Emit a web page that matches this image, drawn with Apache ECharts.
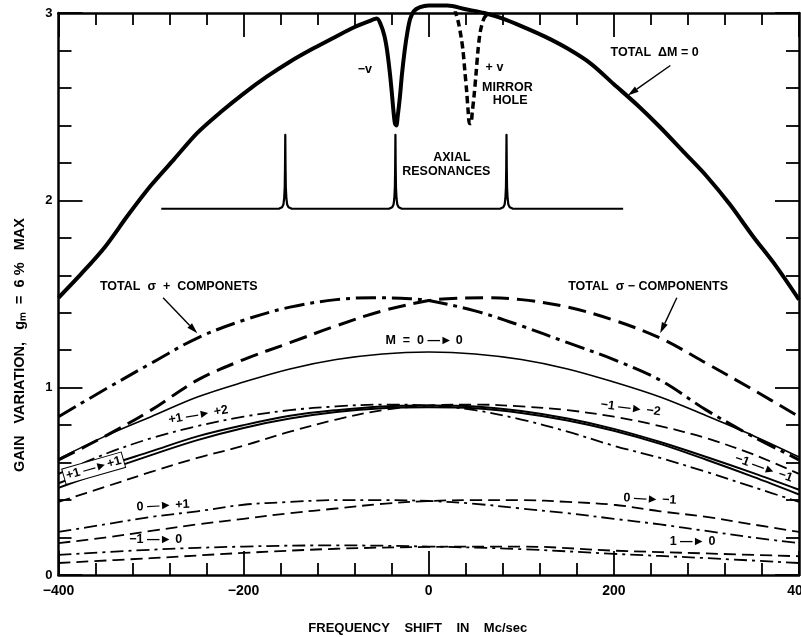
<!DOCTYPE html>
<html><head><meta charset="utf-8">
<script src="https://cdn.jsdelivr.net/npm/echarts@6/dist/echarts.min.js"></script>
<style>html,body{margin:0;padding:0;background:#fff}#c{width:801px;height:637px}</style>
</head><body><div id="c"></div>
<script>
// ---------- tick labels ----------
const xTickValues = [-400, -200, 0, 200, 400];
const xTickLabels = ['−400', '−200', '0', '200', '400'];
const yTickValues = [0, 1, 2, 3];
const yTickLabels = ['0', '1', '2', '3'];

// ---------- series values [frequency shift, gain] ----------
const totalDM0 = [[-400,1.48],[-375,1.61],[-350,1.75],[-325,1.92],[-300,2.08],[-275,2.22],[-250,2.36],[-225,2.47],[-200,2.57],[-175,2.66],[-150,2.74],[-125,2.81],[-100,2.875],[-80,2.925],[-65,2.955],[-56,2.97],[-52,2.94],[-48,2.88],[-45,2.80],[-42,2.68],[-40,2.58],[-38,2.47],[-36.5,2.41],[-35,2.40],[-33.5,2.45],[-31,2.56],[-29,2.67],[-26,2.80],[-23,2.90],[-20,2.97],[-16,3.01],[-10,3.03],[0,3.04],[20,3.04],[40,3.02],[60,3.0],[80,2.97],[100,2.93],[125,2.875],[150,2.81],[175,2.73],[200,2.62],[225,2.51],[250,2.39],[275,2.26],[300,2.13],[325,1.98],[350,1.81],[375,1.65],[400,1.47]];
const mirrorHole = [[28,3.02],[32,2.95],[35,2.87],[37,2.80],[39,2.69],[41,2.58],[42.5,2.48],[44,2.41],[45.5,2.41],[47,2.47],[49,2.56],[51,2.67],[53,2.79],[55,2.88],[57,2.93],[60,2.975],[63,2.99]];
const axialRes = [[-289,1.955],
 [-162,1.955],[-158.5,1.963],[-157,1.978],[-156.2,2.01],[-155.6,2.07],[-155.3,2.17],[-155,2.35],[-154.7,2.17],[-154.4,2.07],[-153.8,2.01],[-153,1.978],[-151.5,1.963],[-148,1.955],
 [-43,1.955],[-39.5,1.963],[-38,1.978],[-37.2,2.01],[-36.6,2.07],[-36.3,2.17],[-36,2.35],[-35.7,2.17],[-35.4,2.07],[-34.8,2.01],[-34,1.978],[-32.5,1.963],[-29,1.955],
 [77,1.955],[80.5,1.963],[82,1.978],[82.8,2.01],[83.4,2.07],[83.7,2.17],[84,2.35],[84.3,2.17],[84.6,2.07],[85.2,2.01],[86,1.978],[87.5,1.963],[91,1.955],
 [210,1.955]];
const sigmaPlus = [[-400,0.845],[-350,0.99],[-300,1.13],[-250,1.265],[-200,1.36],[-150,1.43],[-100,1.47],[-60,1.48],[-20,1.475],[0,1.465],[50,1.41],[100,1.33],[150,1.24],[200,1.15],[250,1.04],[300,0.88],[350,0.74],[400,0.615]];
const sigmaMinus = [[-400,0.615],[-350,0.74],[-300,0.88],[-250,1.04],[-200,1.15],[-150,1.24],[-100,1.33],[-50,1.41],[0,1.465],[20,1.475],[60,1.48],[100,1.47],[150,1.43],[200,1.36],[250,1.265],[300,1.13],[350,0.99],[400,0.845]];
const m0to0 = [[-400,0.62],[-350,0.74],[-300,0.845],[-250,0.95],[-200,1.03],[-150,1.10],[-100,1.15],[-50,1.18],[0,1.19],[50,1.18],[100,1.15],[150,1.10],[200,1.03],[250,0.95],[300,0.85],[350,0.745],[400,0.63]];
const p1toP2 = [[-400,0.54],[-350,0.645],[-300,0.73],[-250,0.795],[-200,0.845],[-150,0.88],[-100,0.90],[-50,0.91],[0,0.905],[50,0.88],[100,0.83],[150,0.765],[200,0.69],[250,0.625],[300,0.55],[350,0.47],[400,0.39]];
const m1toM2 = [[-400,0.39],[-350,0.47],[-300,0.55],[-250,0.625],[-200,0.69],[-150,0.765],[-100,0.83],[-50,0.88],[0,0.905],[50,0.91],[100,0.90],[150,0.88],[200,0.845],[250,0.795],[300,0.73],[350,0.645],[400,0.54]];
const p1toP1 = [[-400,0.49],[-350,0.58],[-300,0.66],[-250,0.74],[-200,0.80],[-150,0.85],[-100,0.88],[-50,0.90],[0,0.905],[50,0.90],[100,0.875],[150,0.835],[200,0.78],[250,0.71],[300,0.63],[350,0.545],[400,0.455]];
const m1toM1 = [[-400,0.465],[-350,0.555],[-300,0.64],[-250,0.72],[-200,0.785],[-150,0.835],[-100,0.87],[-50,0.89],[0,0.895],[50,0.89],[100,0.865],[150,0.825],[200,0.77],[250,0.70],[300,0.615],[350,0.525],[400,0.43]];
const z0toP1 = [[-400,0.23],[-350,0.27],[-300,0.31],[-250,0.34],[-200,0.375],[-150,0.39],[-100,0.40],[-50,0.40],[0,0.395],[50,0.38],[100,0.355],[150,0.33],[200,0.30],[250,0.27],[300,0.235],[350,0.20],[400,0.17]];
const z0toM1 = [[-400,0.17],[-350,0.20],[-300,0.235],[-250,0.27],[-200,0.30],[-150,0.33],[-100,0.355],[-50,0.38],[0,0.395],[50,0.40],[100,0.40],[150,0.39],[200,0.375],[250,0.34],[300,0.31],[350,0.27],[400,0.23]];
const m1to0 = [[-400,0.107],[-300,0.135],[-200,0.152],[-100,0.158],[0,0.152],[100,0.138],[200,0.113],[300,0.09],[400,0.064]];
const p1to0 = [[-400,0.064],[-300,0.09],[-200,0.118],[-100,0.14],[0,0.15],[100,0.152],[200,0.13],[300,0.115],[400,0.10]];

// ---------- annotation layout (data coordinates) ----------
const notes = [
  {t:'TOTAL  ΔM = 0', x:244, y:2.79, r:0},
  {t:'−v', x:-69, y:2.70, r:0},
  {t:'+ v', x:71, y:2.71, r:0},
  {t:'MIRROR', x:85, y:2.60, r:0},
  {t:'HOLE', x:88, y:2.535, r:0},
  {t:'AXIAL', x:25, y:2.23, r:0},
  {t:'RESONANCES', x:19, y:2.155, r:0},
  {t:'TOTAL  σ  +  COMPONETS', x:-270, y:1.54, r:0},
  {t:'TOTAL  σ − COMPONENTS', x:237, y:1.54, r:0},
  {t:'M  =  0 —► 0', x:-5, y:1.25, r:0},
  {t:'+1 —► +2', x:-249, y:0.855, r:10},
  {t:'−1 —► −2', x:218, y:0.89, r:-7},
  {t:'+1 —►+1', x:-362, y:0.57, r:16, box:true},
  {t:'−1 —► −1', x:362, y:0.57, r:-20},
  {t:'0 —► +1', x:-287, y:0.37, r:3},
  {t:'0 —► −1', x:239, y:0.405, r:-3},
  {t:'−1 —► 0', x:-295, y:0.19, r:0},
  {t:'1 —► 0', x:285, y:0.176, r:0}
];
const arrows = [
  [[261,2.72],[215,2.56]],
  [[-287,1.48],[-250,1.29]],
  [[268,1.48],[250,1.29]]
];

const FONT = '"Liberation Sans", Arial, sans-serif';
const chart = echarts.init(document.getElementById('c'));

function mk(name, data, lw, type, extra) {
  return Object.assign({
    type:'line', name, data, symbol:'none', showSymbol:false, smooth:0.35,
    silent:true, animation:false, z:3,
    lineStyle:{color:'#000', width:lw, type:type, cap:'butt', join:'round'}
  }, extra || {});
}
const DASHDOT_THICK = [20,6,4,6];
const DASH_THICK = [18,8];
const DASHDOT_THIN = [13,5,3,5];
const DASH_THIN = [12,6];

function xAx(pos, labels) {
  return {
    type:'value', min:-400, max:400, interval:200, position:pos,
    axisLine:{show:true, onZero:false, lineStyle:{color:'#000', width:2.5}},
    axisTick:{show:true, inside:true, length:24, lineStyle:{color:'#000', width:1.8}},
    minorTick:{show:true, splitNumber:5, length:12, lineStyle:{color:'#000', width:1.8}},
    splitLine:{show:false}, minorSplitLine:{show:false},
    axisLabel:{show:labels, margin:9, color:'#000', fontSize:14, fontWeight:'bold', fontFamily:FONT,
      formatter: v => { const i = xTickValues.indexOf(v); return i >= 0 ? xTickLabels[i] : ''; }}
  };
}
function yAx(pos, labels) {
  return {
    type:'value', min:0, max:3, interval:1, position:pos,
    axisLine:{show:true, onZero:false, lineStyle:{color:'#000', width:2.5}},
    axisTick:{show:true, inside:true, length:24, lineStyle:{color:'#000', width:1.8}},
    minorTick:{show:true, splitNumber:5, length:13, lineStyle:{color:'#000', width:1.8}},
    splitLine:{show:false}, minorSplitLine:{show:false},
    axisLabel:{show:labels, margin:6, color:'#000', fontSize:13, fontWeight:'bold', fontFamily:FONT,
      formatter: v => { const i = yTickValues.indexOf(v); return i >= 0 ? yTickLabels[i] : ''; }}
  };
}

chart.setOption({
  animation:false,
  backgroundColor:'#fff',
  grid:{left:58.5, right:2, top:13, bottom:62, outerBoundsMode:'none', containLabel:false},
  xAxis:[
    Object.assign(xAx('bottom', true), {name:'FREQUENCY    SHIFT    IN    Mc/sec', nameLocation:'middle', nameGap:47,
      nameTextStyle:{color:'#000', fontSize:13, fontWeight:'bold', fontFamily:FONT, padding:[0,22,0,0]}}),
    xAx('top', false)
  ],
  yAxis:[yAx('left', true), yAx('right', false)],
  series:[
    mk('Total ΔM=0', totalDM0, 4, 'solid', {clip:false, smooth:0.3}),
    mk('Mirror hole', mirrorHole, 3.5, [7,4], {smooth:0.3}),
    mk('Axial resonances', axialRes, 2.2, 'solid', {smooth:false}),
    mk('Total σ+', sigmaPlus, 3, DASHDOT_THICK),
    mk('Total σ−', sigmaMinus, 3, DASH_THICK),
    mk('M 0→0', m0to0, 1.6, 'solid'),
    mk('+1→+2', p1toP2, 1.8, DASHDOT_THIN),
    mk('−1→−2', m1toM2, 1.8, DASH_THIN),
    mk('+1→+1', p1toP1, 2, 'solid'),
    mk('−1→−1', m1toM1, 2, 'solid'),
    mk('0→+1', z0toP1, 1.8, DASHDOT_THIN),
    mk('0→−1', z0toM1, 1.8, DASH_THIN),
    mk('−1→0', m1to0, 1.8, DASHDOT_THIN),
    mk('1→0', p1to0, 1.8, DASH_THIN)
  ]
});

const toPx = (pt) => chart.convertToPixel({seriesIndex:0}, pt);
const graphics = notes.map(n => {
  const p = toPx([n.x, n.y]);
  const style = {text:n.t, fill:'#000', fontSize:12.5, fontWeight:'bold', fontFamily:FONT,
    align:'center', verticalAlign:'middle'};
  if (n.box) { Object.assign(style, {backgroundColor:'#fff', borderColor:'#000', borderWidth:1, padding:[1,2]}); }
  return {type:'text', x:p[0], y:p[1], rotation:n.r * Math.PI / 180, z:10, silent:true, style};
});
arrows.forEach(a => {
  const p0 = toPx(a[0]), p1 = toPx(a[1]);
  const dx = p1[0]-p0[0], dy = p1[1]-p0[1], L = Math.hypot(dx, dy);
  const ux = dx/L, uy = dy/L, hl = 11, hw = 3.2;
  const bx = p1[0]-ux*hl, by = p1[1]-uy*hl;
  graphics.push({type:'line', z:10, silent:true, shape:{x1:p0[0], y1:p0[1], x2:bx, y2:by},
    style:{stroke:'#000', lineWidth:1.4}});
  graphics.push({type:'polygon', z:10, silent:true,
    shape:{points:[[p1[0],p1[1]],[bx - uy*hw, by + ux*hw],[bx + uy*hw, by - ux*hw]]},
    style:{fill:'#000'}});
});
graphics.push({type:'text', x:20, y:345, rotation:Math.PI/2, z:10, silent:true,
  style:{text:'GAIN   VARIATION,   gₘ  =  6 %   MAX', fill:'#000', fontSize:14.5, fontWeight:'bold',
    fontFamily:FONT, align:'center', verticalAlign:'middle'}});
chart.setOption({graphic: graphics});
</script></body></html>
